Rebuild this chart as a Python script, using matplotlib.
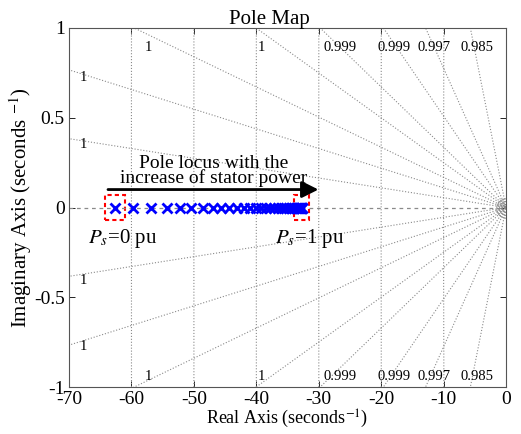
import numpy as np
import matplotlib
matplotlib.use("Agg")
import matplotlib.pyplot as plt
from matplotlib.patches import Rectangle

plt.rcParams['font.family'] = ['Liberation Serif', 'DejaVu Serif']
plt.rcParams['mathtext.fontset'] = 'stix'

# pole locus (real parts), stator power from 0 to 1 pu
pole_re = [-62.6, -59.7, -56.8, -54.3, -52.2, -50.4, -48.6, -47.0, -45.6, -44.3,
           -43.1, -42.0, -41.0, -40.1, -39.3, -38.5, -37.8, -37.2, -36.6, -36.1,
           -35.6, -35.2, -34.8, -34.5, -34.2, -33.9, -33.7, -33.5, -33.3, -33.15,
           -33.0, -32.9, -32.8, -32.75, -32.7]
pole_im = [0.0] * len(pole_re)

# sgrid settings
zeta_left = [0.999985, 0.99994]
zeta_top = [0.999859, 0.999688, 0.999436, 0.998706, 0.997, 0.985]
wn = [10, 20, 30, 40, 50, 60, 70]

# label layout
top_label_x = [-57.35, -39.1, -26.6, -17.9, -11.5, -4.6]
left_label_x = -67.7

xticks = [-70, -60, -50, -40, -30, -20, -10, 0]
yticks = [-1, -0.5, 0, 0.5, 1]

fig = plt.figure(figsize=(5.21, 4.34), dpi=100)
ax = fig.add_axes([69 / 521, 47 / 434, 437 / 521, 359 / 434])
ax.set_xlim(-70, 0)
ax.set_ylim(-1, 1)

gcol = '#8a8a8a'
# damping lines
xs = np.array([-80.0, 0.0])
for z in zeta_left + zeta_top:
    s = np.tan(np.arccos(z))
    ax.plot(xs, -s * xs, ls=':', color=gcol, lw=0.8)
    ax.plot(xs, s * xs, ls=':', color=gcol, lw=0.8)
ax.axhline(0, ls=(0, (3, 3)), color=gcol, lw=0.9)

# natural frequency circles
yy = np.linspace(-1, 1, 200)
for w in wn:
    ax.plot(-np.sqrt(w ** 2 - yy ** 2), yy, ls=':', color=gcol, lw=0.8)
for ms in [14, 10, 6]:
    ax.plot([0], [0], 'o', mfc='none', mec=gcol, ms=ms, mew=0.7)

# damping labels
for z, lx in zip(zeta_top, top_label_x):
    lab = f"{z:.3g}"
    ax.text(lx, 0.894, lab, ha='center', va='center', fontsize=10.5)
    ax.text(lx, -0.939, lab, ha='center', va='center', fontsize=10.5)
for z in zeta_left:
    s = np.tan(np.arccos(z))
    lab = f"{z:.3g}"
    ax.text(left_label_x, s * 67.7 - 0.02, lab, ha='center', va='center', fontsize=10.5)
    ax.text(left_label_x, -s * 67.7 - 0.035, lab, ha='center', va='center', fontsize=10.5)

# poles
ax.plot(pole_re, pole_im, 'x', color='#0000ff', ms=7.5, mew=2)

# highlight boxes
ax.add_patch(Rectangle((pole_re[0] - 1.6, -0.07), 3.2, 0.14, fill=False,
                       ec='red', lw=1.5, ls=(0, (2, 1.5))))
ax.add_patch(Rectangle((pole_re[-1] - 1.2, -0.07), 2.4, 0.14, fill=False,
                       ec='red', lw=1.5, ls=(0, (2, 1.5))))

ax.annotate('', xy=(-29.6, 0.1), xytext=(-64.2, 0.1),
            arrowprops=dict(arrowstyle='-|>', lw=2, color='k', mutation_scale=25))
ax.text(-46.9, 0.205, "Pole locus with the\nincrease of stator power",
        ha='center', va='center', fontsize=14, linespacing=0.8)
ax.text(-67.0, -0.17, "$P_s$=0 pu", ha='left', va='center', fontsize=15)
ax.text(-37.0, -0.17, "$P_s$=1 pu", ha='left', va='center', fontsize=15)

ax.set_xticks(xticks)
ax.set_yticks(yticks)
ax.set_xticklabels([str(t) for t in xticks])
ax.set_yticklabels(['-1', '-0.5', '0', '0.5', '1'])
ax.tick_params(direction='in', top=True, right=True, labelsize=14, length=4, width=0.6, pad=3)
for sp in ax.spines.values():
    sp.set_color('#555555')
    sp.set_linewidth(0.8)

ax.set_title("Pole Map", fontsize=15, x=0.458, pad=3)
ax.set_xlabel("Real Axis (seconds$^{-1}$)", fontsize=13, labelpad=0)
ax.set_ylabel("Imaginary Axis (seconds $^{-1}$)", fontsize=15, labelpad=0)

fig.savefig("out.png", dpi=100)
